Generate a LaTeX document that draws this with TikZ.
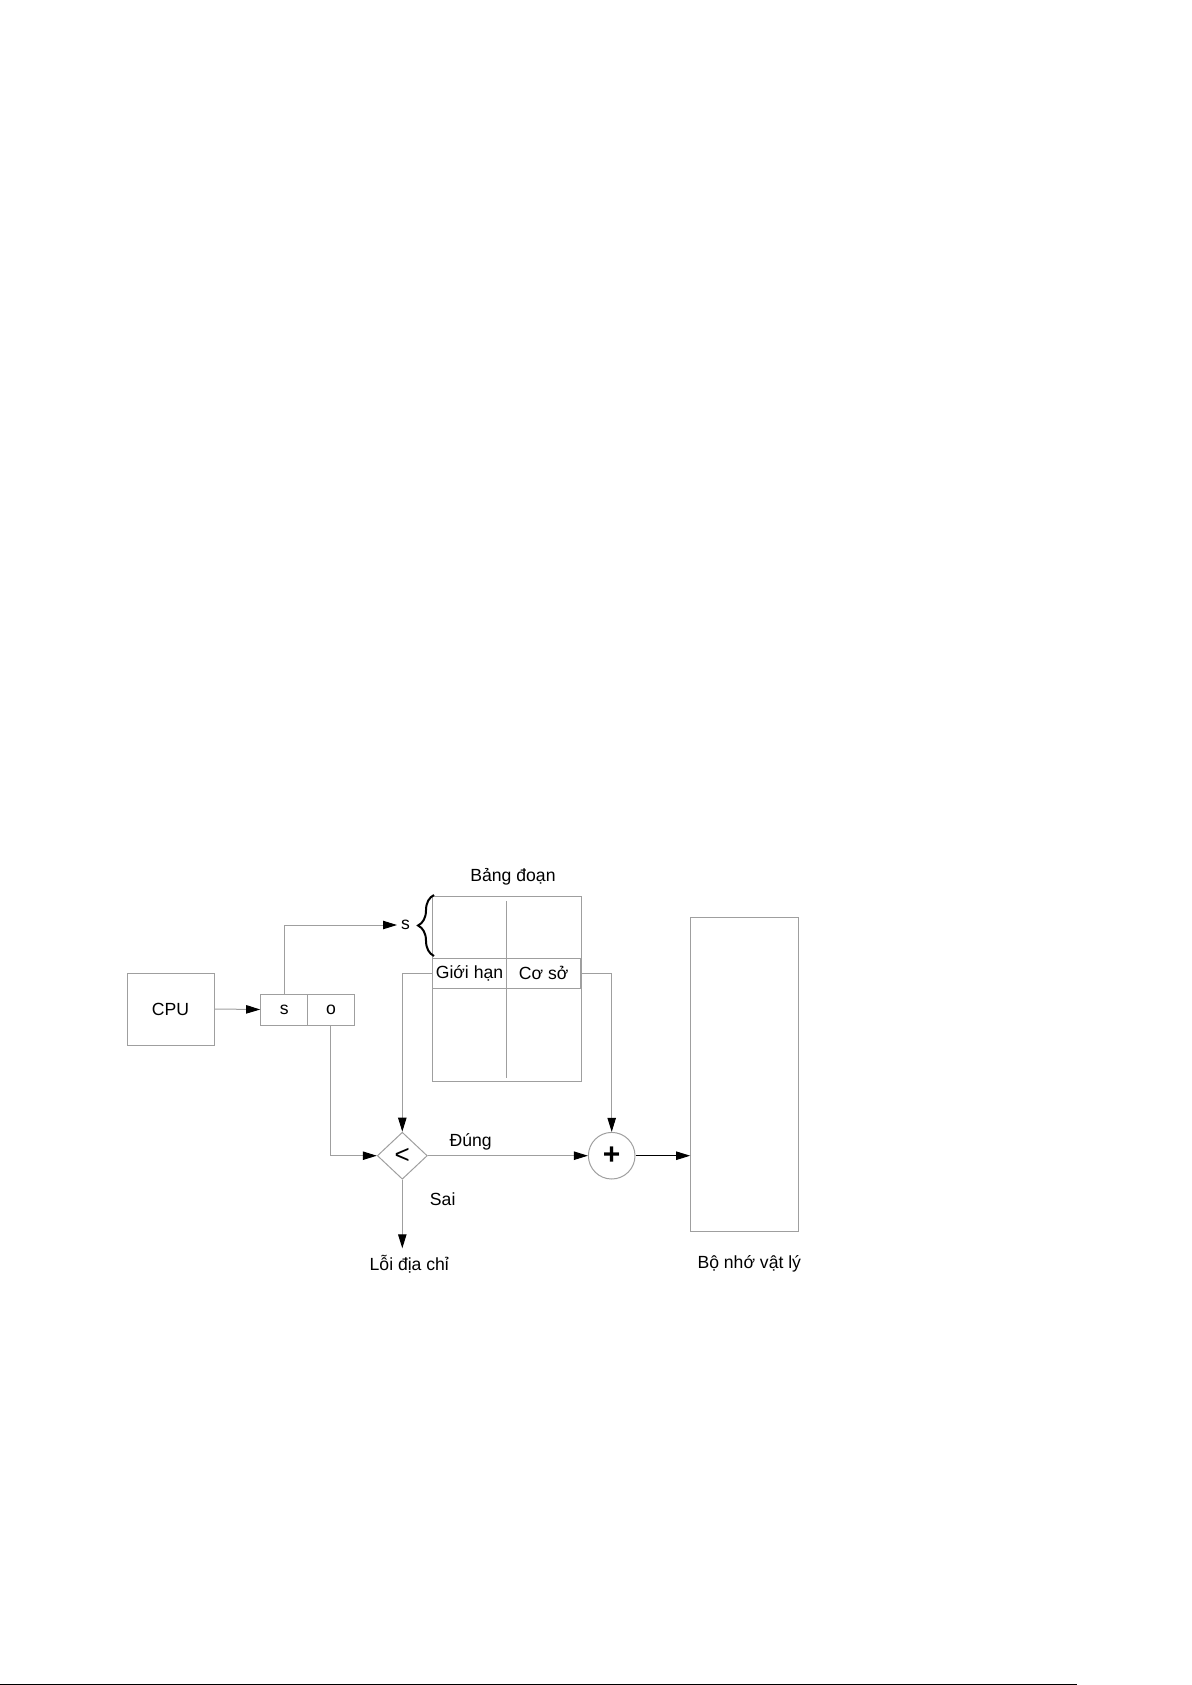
\documentclass[tikz,border=0pt]{standalone}
\usepackage{fontspec}
\setmainfont{Liberation Sans}
\usetikzlibrary{arrows.meta,shapes.geometric,decorations.pathreplacing}
\begin{document}
\begin{tikzpicture}[x=0.5pt,y=-0.5pt,
  font=\fontsize{8.8pt}{10pt}\selectfont,
  ln/.style={draw=gray!75,line width=0.5pt},
  arr/.style={ln,-{Triangle[length=7pt,width=4.2pt,color=black]}},
  box/.style={draw=gray!75,line width=0.5pt,inner sep=0pt},
  lbl/.style={inner sep=0pt}]
\useasboundingbox (0,0) rectangle (1192,1685);
% CPU and logical address
\node[box,minimum width=43.5pt,minimum height=36pt] (cpu) at (170.5,1009) {CPU};
\node[box,minimum width=23.5pt,minimum height=15.5pt] (sbox) at (284.2,1009.5) {s};
\node[box,minimum width=23.2pt,minimum height=15.5pt] (obox) at (330.9,1009.5) {o};
% segment table
\node[lbl] (title) at (513,877) {Bảng đoạn};
\node[box,minimum width=74.5pt,minimum height=92.5pt] (tab) at (506.5,988.5) {};
\node[box,minimum width=37.3pt,minimum height=15pt] (gh) at (469.5,973) {Giới hạn};
\node[box,minimum width=37.2pt,minimum height=15pt] (cs) at (543.7,973) {Cơ sở};
\coordinate (ctop) at (506.7,901);
\coordinate (cbot) at (506.7,958);
\coordinate (dtop) at (506.7,988);
\coordinate (dbot) at (506.7,1078);
\draw[ln] (ctop) -- (cbot);
\draw[ln] (dtop) -- (dbot);
\coordinate (bt) at (434,956);
\coordinate (bb) at (434,895);
\draw[line width=1pt,decorate,decoration={brace,amplitude=8pt,aspect=0.5}] (bt) -- (bb);
\node[lbl] (slbl) at (405.5,925) {s};
\coordinate (sin) at (397,925);
% compare and add
\node[draw=gray!75,line width=0.5pt,shape=diamond,inner sep=0pt,minimum width=25pt,minimum height=23.5pt,font=\fontsize{13pt}{13pt}\selectfont] (cmp) at (402.3,1155.7) {<};
\node[draw=gray!75,line width=0.5pt,shape=circle,inner sep=0pt,minimum size=23.3pt,font=\fontsize{15pt}{15pt}\selectfont\bfseries] (add) at (611.7,1155.7) {+};
\node[lbl] (dung) at (470.7,1141.7) {Đúng};
\node[lbl] (sai) at (442.7,1199.3) {Sai};
\coordinate (err) at (402.3,1248.3);
\node[lbl] (loi) at (409.3,1264) {Lỗi địa chỉ};
% physical memory
\node[box,minimum width=53.7pt,minimum height=157.2pt] (mem) at (744.4,1074.5) {};
\node[lbl] (bnvl) at (749.3,1263.5) {Bộ nhớ vật lý};
% connectors
\draw[arr] (cpu.east) -- (sbox.west);
\draw[arr] (sbox.north) |- (sin);
\draw[arr] (gh.west) -| (cmp.north);
\draw[arr] (cs.east) -| (add.north);
\draw[arr] (obox.south) |- (cmp.west);
\draw[arr] (cmp.east) -- (add.west);
\draw[arr] (cmp.south) -- (err);
\draw[line width=0.5pt,-{Triangle[length=7pt,width=4.2pt]}] (add.east) -- (add.east -| mem.west);
% page rule
\coordinate (r1) at (0,1684.3);
\coordinate (r2) at (1077,1684.3);
\draw[line width=0.8pt] (r1) -- (r2);
\end{tikzpicture}
\end{document}
